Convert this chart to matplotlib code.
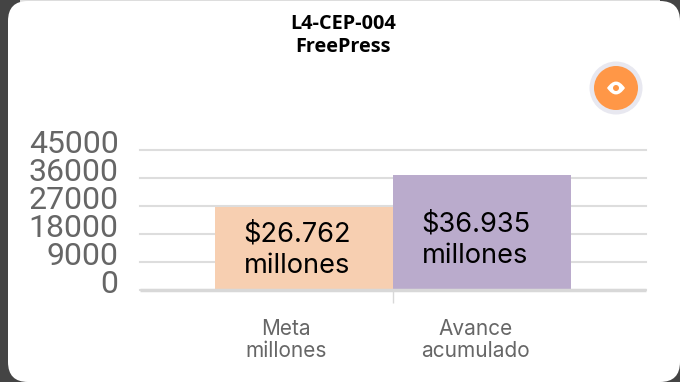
import matplotlib
matplotlib.use("Agg")
import matplotlib.pyplot as plt
from matplotlib.patches import FancyBboxPatch, Circle, PathPatch, Rectangle
from matplotlib.path import Path
from matplotlib.transforms import ScaledTranslation

# datos del grafico
categorias = ["Meta\nmillones", "Avance\nacumulado"]
valores = [26762, 36935]
etiquetas = ["$26.762\nmillones", "$36.935\nmillones"]
colores = ["#f7cfb1", "#baabcc"]
ticks_y = [0, 9000, 18000, 27000, 36000, 45000]

W, H = 680, 382
fig = plt.figure(figsize=(W / 100, H / 100), dpi=100, facecolor="#444444")

# fondo, en pixeles de la imagen
bg = fig.add_axes([0, 0, 1, 1])
bg.set_xlim(0, W)
bg.set_ylim(H, 0)
bg.axis("off")
bg.add_patch(Rectangle((20, 0), 640, 2, fc="#dddddd", ec="none"))
bg.add_patch(FancyBboxPatch((8 + 20, 1 + 20), W - 8 - 40, H - 1 - 40,
                            boxstyle="round,pad=20,rounding_size=20", fc="white", ec="none"))

# boton del ojo
bg.add_patch(Circle((616, 88), 26.5, fc="#e8e8f0", ec="none"))
bg.add_patch(Circle((616, 88), 22, fc="#ff9747", ec="none"))
ojo = Path([(607, 88), (616, 75), (625, 88), (616, 101), (607, 88)],
           [Path.MOVETO, Path.CURVE3, Path.CURVE3, Path.CURVE3, Path.CURVE3])
bg.add_patch(PathPatch(ojo, fc="white", ec="none"))
bg.add_patch(Circle((616, 88), 3, fc="#ff9747", ec="none"))

bg.text(343, 24, "L4-CEP-004", ha="center", va="center", fontsize=14.3,
        fontweight="bold", family="Open Sans", color="#000000")
bg.text(343, 47, "FreePress", ha="center", va="center", fontsize=14.3,
        fontweight="bold", family="Open Sans", color="#000000")

# grafico
x0, x1, y_top, y_base = 139.5, 646, 150, 290
ax = fig.add_axes([x0 / W, 1 - y_base / H, (x1 - x0) / W, (y_base - y_top) / H])
ax.patch.set_alpha(0)
ax.set_xlim(-0.923, 1.923)
ax.set_ylim(0, 45000)
ax.set_axisbelow(True)
ax.grid(axis="y", color="#dddddd", linewidth=1.5, clip_on=False)
ax.bar(range(2), valores, width=1, color=colores, zorder=3)

for s in ["top", "left", "right"]:
    ax.spines[s].set_visible(False)
ax.spines["bottom"].set_color("#d8d8d8")
ax.spines["bottom"].set_linewidth(2.5)
ax.spines["bottom"].set_capstyle("butt")
ax.spines["bottom"].set_zorder(4)

ax.set_yticks(ticks_y)
ax.set_yticklabels([str(t) for t in ticks_y], fontsize=23, family="Roboto",
                   color="#666666", va="center")
ax.tick_params(axis="y", length=0, pad=15)
subir = ScaledTranslation(0, 5.5 / 100, fig.dpi_scale_trans)
for lab in ax.get_yticklabels():
    lab.set_transform(lab.get_transform() + subir)
ax.set_xticks([0.5])
ax.set_xticklabels([""])
ax.tick_params(axis="x", length=9, width=1, color="#d8d8d8")

# etiquetas dentro de las barras
ax.text(-0.04, 12750, etiquetas[0], ha="center", va="center", fontsize=19.6, family="Inter",
        color="#000000", linespacing=1.25, zorder=5)
ax.text(0.965, 16050, etiquetas[1], ha="center", va="center", fontsize=19.6, family="Inter",
        color="#000000", linespacing=1.25, zorder=5)

# etiquetas de categoria
bg.text(286, 340, categorias[0], ha="center", va="center", fontsize=15, family="Inter",
        color="#666666", linespacing=1.13)
bg.text(475.5, 340, categorias[1], ha="center", va="center", fontsize=15, family="Inter",
        color="#666666", linespacing=1.13)

fig.savefig("out.png", dpi=100, facecolor=fig.get_facecolor())
